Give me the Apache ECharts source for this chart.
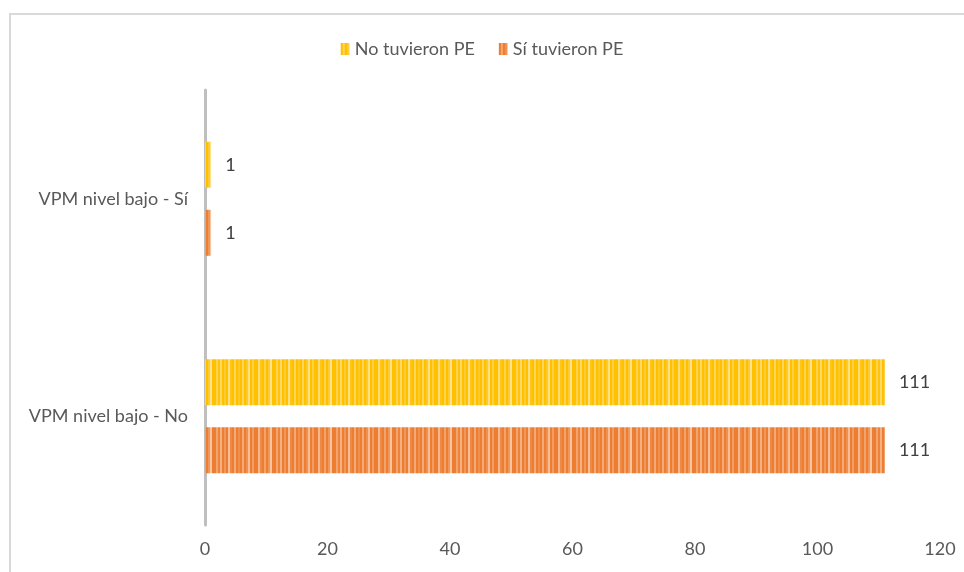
<!DOCTYPE html>
<html>
<head>
<meta charset="utf-8">
<script src="https://cdn.jsdelivr.net/npm/echarts@6/dist/echarts.min.js"></script>
<style>
  html, body { margin: 0; padding: 0; background: #ffffff; }
  #chart { width: 964px; height: 572px; }
</style>
</head>
<body>
<div id="chart"></div>
<script>
// categories from bottom to top (y axis)
const categories = ['VPM nivel bajo - No', 'VPM nivel bajo - Sí'];
const seriesNames = ['No tuvieron PE', 'Sí tuvieron PE'];
const noTuvieron = [111, 1];
const siTuvieron = [111, 1];
const xTicks = { min: 0, max: 120, interval: 20 };

// striped fill like the original (vertical light/dark lines)
const stripeMix = [0, 0.35, 0, 0.15, 0.5, 0, 0.25, 0, 0, 0.45, 0.1, 0, 0.3, 0, 0.2, 0.55, 0, 0, 0.3, 0.05, 0.4, 0, 0.2, 0, 0.5, 0.1, 0, 0.35, 0, 0.15];
const makeStripes = (base) => {
  const c = document.createElement('canvas');
  c.width = stripeMix.length * 2;
  c.height = 8;
  const ctx = c.getContext('2d');
  stripeMix.forEach((m, i) => {
    ctx.fillStyle = base;
    ctx.fillRect(i * 2, 0, 2, 8);
    ctx.fillStyle = 'rgba(255,255,255,' + m + ')';
    ctx.fillRect(i * 2, 0, 2, 8);
  });
  return { image: c, repeat: 'repeat' };
};

const yellow = '#FFC000';
const orange = '#ED7D31';
const font = 'Lato, "Open Sans", sans-serif';
const fs = 18;

const chart = echarts.init(document.getElementById('chart'));
chart.setOption({
  backgroundColor: '#ffffff',
  animation: false,
  graphic: [{
    type: 'rect',
    shape: { x: 10, y: 14, width: 1000, height: 700 },
    style: { fill: 'none', stroke: '#D9D9D9', lineWidth: 2 },
    silent: true
  }],
  legend: {
    top: 35,
    left: 'center',
    icon: 'rect',
    itemWidth: 9,
    itemHeight: 12,
    itemGap: 24,
    textStyle: { color: '#595959', fontSize: fs, fontFamily: font },
    data: seriesNames
  },
  grid: { left: 205, right: 24, top: 90, bottom: 47 },
  xAxis: {
    type: 'value',
    min: xTicks.min,
    max: xTicks.max,
    interval: xTicks.interval,
    axisLine: { show: false },
    axisTick: { show: false },
    splitLine: { show: false },
    axisLabel: { color: '#595959', fontSize: fs, fontFamily: font, margin: 15 }
  },
  yAxis: {
    type: 'category',
    data: categories,
    axisLine: { show: true, lineStyle: { color: '#BFBFBF', width: 3 } },
    axisTick: { show: false },
    axisLabel: { color: '#595959', fontSize: fs, fontFamily: font, margin: 17 }
  },
  series: [
    {
      name: seriesNames[0],
      type: 'bar',
      data: noTuvieron,
      barWidth: 46,
      barGap: '48%',
      itemStyle: { color: makeStripes(yellow) },
      label: { show: true, position: 'right', distance: 14, color: '#404040', fontSize: fs, fontFamily: font }
    },
    {
      name: seriesNames[1],
      type: 'bar',
      data: siTuvieron,
      barWidth: 46,
      barGap: '48%',
      itemStyle: { color: makeStripes(orange) },
      label: { show: true, position: 'right', distance: 14, color: '#404040', fontSize: fs, fontFamily: font }
    }
  ]
});
</script>
</body>
</html>
